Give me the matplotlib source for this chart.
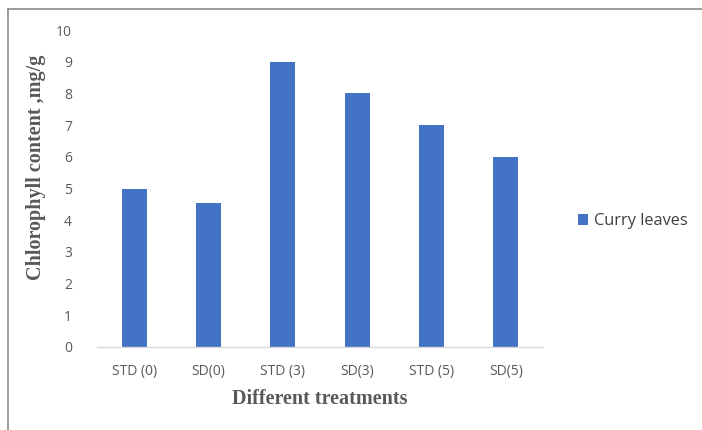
"""Chlorophyll content bar chart"""

import matplotlib
matplotlib.use("Agg")
import matplotlib.pyplot as plt
from matplotlib.lines import Line2D
import numpy as np

treatments = ["STD (0)", "SD(0)", "STD (3)", "SD(3)", "STD (5)", "SD(5)"]
chlorophyll = [5.0, 4.55, 9.0, 8.0, 7.0, 6.0]
series_name = "Curry leaves"
y_ticks = [0, 1, 2, 3, 4, 5, 6, 7, 8, 9, 10]

BAR_COLOR = "#4472C4"
TEXT_COLOR = "#595959"

fig = plt.figure(figsize=(7.02, 4.30), dpi=100)
ax = fig.add_axes([97 / 702, 1 - 347 / 430, 446 / 702, 317 / 430])

x = np.arange(len(treatments))
ax.bar(x, chlorophyll, width=0.34, color=BAR_COLOR, label=series_name)

ax.set_xlim(-0.5, len(treatments) - 0.5)
ax.set_ylim(0, 10)
ax.set_yticks(y_ticks)
ax.set_xticks(x)
ax.set_xticklabels(treatments)

for side in ("top", "right", "left"):
    ax.spines[side].set_visible(False)
ax.spines["bottom"].set_color("#D9D9D9")
ax.spines["bottom"].set_linewidth(1.0)
ax.tick_params(axis="both", length=0, labelsize=10, labelcolor=TEXT_COLOR)
ax.tick_params(axis="y", pad=18)
ax.tick_params(axis="x", pad=12.5)
for lbl in ax.get_xticklabels() + ax.get_yticklabels():
    lbl.set_family("Open Sans")

ax.set_xlabel("Different treatments", family="Liberation Serif", fontweight="bold",
              fontsize=14.5, color=TEXT_COLOR, labelpad=7)
fig.text(36 / 702, 1 - 167 / 430, "Chlorophyll content ,mg/g", rotation=90,
         ha="center", va="center", family="Liberation Serif", fontweight="bold",
         fontsize=14.5, color=TEXT_COLOR)

leg = ax.legend(loc="center left", bbox_to_anchor=(1.045, 0.397), frameon=False,
                prop={"family": "Open Sans", "size": 11.8}, handlelength=0.65,
                handleheight=0.65, handletextpad=0.35)
for t in leg.get_texts():
    t.set_color("#404040")

# outer frame
fig.add_artist(Line2D([8 / 702, 8 / 702], [0, 1 - 9 / 430], color="#8C8C8C", lw=1.2,
                      transform=fig.transFigure))
fig.add_artist(Line2D([8 / 702, 1], [1 - 9 / 430, 1 - 9 / 430], color="#8C8C8C", lw=1.2,
                      transform=fig.transFigure))

fig.savefig("out.png", dpi=100, facecolor="white")
